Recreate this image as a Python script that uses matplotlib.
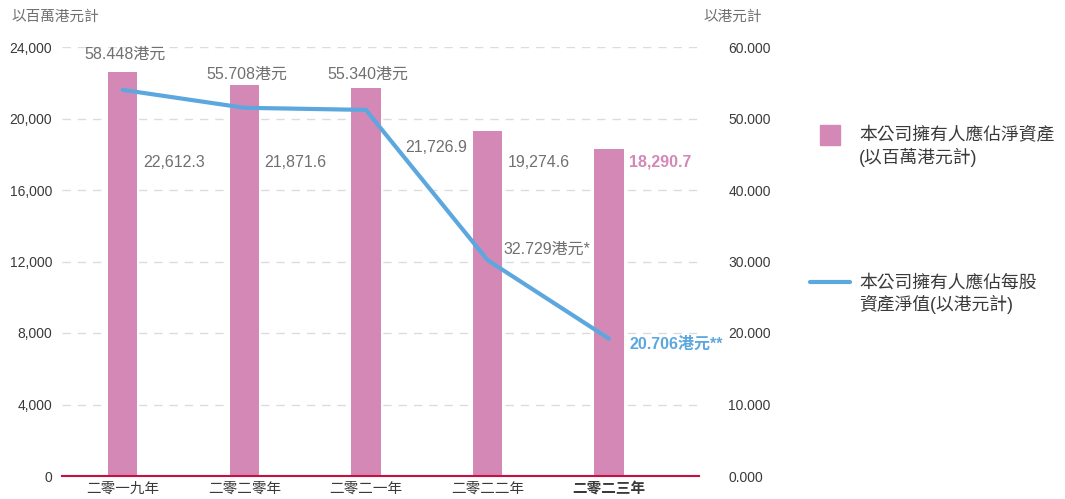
import numpy as np
import matplotlib
matplotlib.use('Agg')
import matplotlib.pyplot as plt

plt.rcParams['font.family'] = ['Liberation Sans', 'Noto Sans CJK TC']

years = ['二零一九年', '二零二零年', '二零二一年', '二零二二年', '二零二三年']
net_assets = [22612.3, 21871.6, 21726.9, 19274.6, 18290.7]
asset_labels = ['22,612.3', '21,871.6', '21,726.9', '19,274.6', '18,290.7']
# line as drawn in the picture (right axis), and its printed labels
nav_per_share = [54.0, 51.5, 51.2, 30.2, 19.2]
nav_labels = ['58.448港元', '55.708港元', '55.340港元', '32.729港元*', '20.706港元**']
left_ticks = [0, 4000, 8000, 12000, 16000, 20000, 24000]
right_ticks = [0, 10, 20, 30, 40, 50, 60]

pink = '#d488b6'
blue = '#5ca8de'
grey = '#707070'
dark = '#3a3a3a'

fig = plt.figure(figsize=(10.65, 4.99), dpi=100)
ax = fig.add_axes([62/1065, 1-476/499, (699-62)/1065, (476-47)/499])
x = np.arange(len(years))
ax.bar(x, net_assets, width=0.24, color=pink, zorder=2)
ax.set_xlim(-0.5, 4.74)
ax.set_ylim(0, 24000)
ax.set_yticks(left_ticks)
ax.set_yticklabels([f'{v:,}' for v in left_ticks], fontsize=10, color=dark)
ax.set_xticks(x)
ax.set_xticklabels(years, fontsize=10.5, color=dark)
ax.get_xticklabels()[-1].set_fontweight('bold')
ax.tick_params(length=0, pad=7)
ax.tick_params(axis='x', pad=4)
ax.grid(axis='y', ls=(0, (6, 5)), color='#dcdcdc', lw=1, zorder=0)
for s in ['top', 'right', 'left']:
    ax.spines[s].set_visible(False)
ax.spines['bottom'].set_color('#c8103e')
ax.spines['bottom'].set_linewidth(1.5)
ax.spines['bottom'].set_zorder(3)

ax2 = ax.twinx()
ax2.plot(x, nav_per_share, color=blue, lw=3, solid_capstyle='round', zorder=4)
ax2.set_ylim(0, 60)
ax2.set_yticks(right_ticks)
ax2.set_yticklabels([f'{v:.3f}' for v in right_ticks], fontsize=10, color=dark)
ax2.tick_params(length=0, pad=21)
for s in ax2.spines.values():
    s.set_visible(False)

# bar value labels
lab_pos = [(0.165, 17550), (0.165, 17550), (0.32, 18400), (0.165, 17550), (0.165, 17550)]
for i, (t, (dx, yy)) in enumerate(zip(asset_labels, lab_pos)):
    last = i == len(x) - 1
    ax.text(i + dx, yy, t, fontsize=11.5, va='center', ha='left',
            color=pink if last else grey, fontweight='bold' if last else 'normal')

# line value labels
pos = [(0.02, 23600), (0.02, 22500), (0.02, 22500), (0.13, 12700), (0.165, 7400)]
has = ['center', 'center', 'center', 'left', 'left']
for i, (t, (dx, yy), h) in enumerate(zip(nav_labels, pos, has)):
    last = i == len(x) - 1
    ax.text(i + dx, yy, t, fontsize=11.5, va='center', ha=h, zorder=5,
            color=blue if last else grey, fontweight='bold' if last else 'normal')

fig.text(12/1065, 1-17/499, '以百萬港元計', fontsize=10.5, color=grey, va='center')
fig.text(762/1065, 1-17/499, '以港元計', fontsize=10.5, color=grey, va='center', ha='right')

# legend
fig.patches.append(plt.Rectangle((820/1065, 1-145/499), 20/1065, 20/499,
                                 transform=fig.transFigure, color=pink))
fig.text(859/1065, 1-147/499, '本公司擁有人應佔淨資產\n(以百萬港元計)', fontsize=12.8,
         color=dark, va='center', linespacing=1.2)
fig.add_artist(plt.Line2D([810/1065, 850/1065], [1-282/499, 1-282/499],
                          transform=fig.transFigure, color=blue, lw=3, solid_capstyle='round'))
fig.text(859/1065, 1-294/499, '本公司擁有人應佔每股\n資產淨值(以港元計)', fontsize=12.8,
         color=dark, va='center', linespacing=1.2)

fig.savefig('out.png', dpi=100)
